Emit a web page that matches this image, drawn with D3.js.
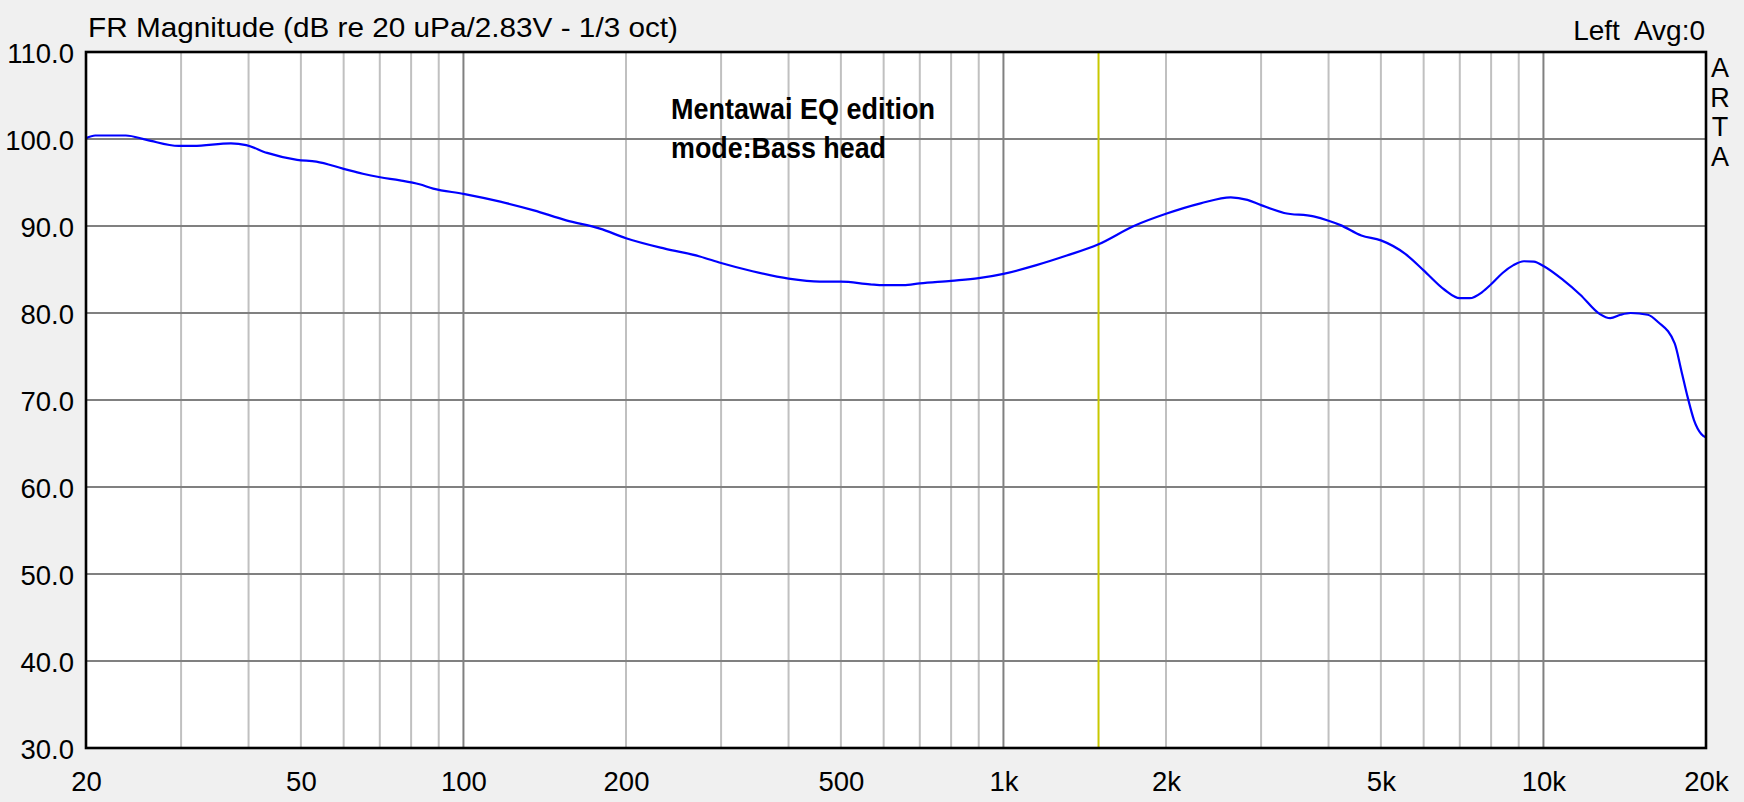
<!DOCTYPE html>
<html>
<head>
<meta charset="utf-8">
<script src="https://cdn.jsdelivr.net/npm/d3@7"></script>
<style>
  html, body { margin: 0; padding: 0; background: #f0f0f0; }
  svg { display: block; font-family: "Liberation Sans", Arial, sans-serif; }
</style>
</head>
<body>
<svg id="chart" width="1744" height="802"></svg>
<script>
// ---------------- data ----------------
const freqs = [20, 20.8, 23.7, 25.9, 29.7, 31.6, 37.1, 39.6, 43.3, 49.2, 53.4, 59.8, 65.1, 70.1, 76.3, 82.9, 87.9,
  100, 117, 135, 155, 179, 200, 236, 274, 300, 343, 400, 457, 500, 566, 600, 653, 700, 800, 900,
  1000, 1151, 1310, 1500, 1744, 2000, 2318, 2636, 2830, 3000, 3309, 3752, 4000, 4209, 4600, 5000, 5548,
  6000, 6550, 7000, 7300, 7700, 8000, 8400, 8800, 9200, 9600, 10000, 10870, 11700, 12700, 13300, 13900, 14500,
  15600, 16300, 17500, 18000, 18500, 19000, 19600, 20000];
const magnitudeDb = [100.1, 100.4, 100.4, 99.9, 99.2, 99.2, 99.5, 99.3, 98.4, 97.6, 97.4, 96.6, 96.0, 95.6, 95.25, 94.8, 94.3,
  93.7, 92.8, 91.8, 90.65, 89.7, 88.6, 87.4, 86.5, 85.75, 84.8, 83.95, 83.6, 83.6, 83.3, 83.2, 83.2, 83.4, 83.7, 84.0,
  84.5, 85.5, 86.6, 87.9, 90.0, 91.4, 92.6, 93.3, 93.0, 92.4, 91.5, 91.1, 90.6, 90.1, 88.9, 88.35, 86.8,
  84.9, 82.7, 81.7, 81.7, 82.4, 83.3, 84.6, 85.5, 85.95, 85.9, 85.4, 83.8, 82.1, 79.9, 79.4, 79.8, 80.0,
  79.8, 78.96, 76.5, 73.4, 70.3, 67.7, 66.1, 65.7];

const xTickValues = [20, 50, 100, 200, 500, 1000, 2000, 5000, 10000, 20000];
const xTickLabels = ["20", "50", "100", "200", "500", "1k", "2k", "5k", "10k", "20k"];
const xMajorGrid = [100, 1000, 10000];
const xMinorGrid = [30, 40, 50, 60, 70, 80, 90, 200, 300, 400, 500, 600, 700, 800, 900,
  2000, 3000, 4000, 5000, 6000, 7000, 8000, 9000];
const yTickValues = [30, 40, 50, 60, 70, 80, 90, 100, 110];
const markerFreq = [1500];

const titleText = "FR Magnitude (dB re 20 uPa/2.83V - 1/3 oct)";
const channelText = "Left  Avg:0";
const brandLetters = ["A", "R", "T", "A"];
const noteLines = ["Mentawai EQ edition", "mode:Bass head"];

// ---------------- layout ----------------
const L = 86, T = 52, R = 1706, B = 748;
const svg = d3.select("#chart");

const x = d3.scaleLog().domain([20, 20000]).range([L, R]);
const y = d3.scaleLinear().domain([30, 110]).range([B, T]);

// plot background
svg.append("rect").attr("x", L).attr("y", T).attr("width", R - L).attr("height", B - T).attr("fill", "#ffffff");

// minor vertical grid
svg.append("g").selectAll("line").data(xMinorGrid).join("line")
  .attr("x1", d => x(d)).attr("x2", d => x(d)).attr("y1", T).attr("y2", B)
  .attr("stroke", "#c0c0c0").attr("stroke-width", 2);

// major vertical grid
svg.append("g").selectAll("line").data(xMajorGrid).join("line")
  .attr("x1", d => x(d)).attr("x2", d => x(d)).attr("y1", T).attr("y2", B)
  .attr("stroke", "#808080").attr("stroke-width", 2);

// horizontal grid
svg.append("g").selectAll("line").data(yTickValues.slice(1, -1)).join("line")
  .attr("x1", L).attr("x2", R).attr("y1", d => y(d)).attr("y2", d => y(d))
  .attr("stroke", "#808080").attr("stroke-width", 2);

// marker (yellow)
svg.append("g").selectAll("line").data(markerFreq).join("line")
  .attr("x1", d => x(d)).attr("x2", d => x(d)).attr("y1", T).attr("y2", B)
  .attr("stroke", "#c8c800").attr("stroke-width", 2);

// annotation
const note = svg.append("g").attr("font-weight", "bold").attr("font-size", 30).attr("fill", "#000");
note.selectAll("text").data(noteLines).join("text")
  .attr("x", 671).attr("y", (d, i) => 119 + i * 39)
  .attr("textLength", (d, i) => [264, 215][i])
  .attr("lengthAdjust", "spacingAndGlyphs")
  .text(d => d);

// curve
const pts = freqs.map((f, i) => [f, magnitudeDb[i]]);
const line = d3.line().x(d => x(d[0])).y(d => y(d[1])).curve(d3.curveMonotoneX);
svg.append("path").datum(pts).attr("d", line)
  .attr("fill", "none").attr("stroke", "#0000ff").attr("stroke-width", 2.2);

// border
svg.append("rect").attr("x", L).attr("y", T).attr("width", R - L).attr("height", B - T)
  .attr("fill", "none").attr("stroke", "#000").attr("stroke-width", 2.6);

// axes (labels only)
const yAxis = d3.axisLeft(y).tickValues(yTickValues).tickFormat(d3.format(".1f")).tickSize(0).tickPadding(12);
const gy = svg.append("g").attr("transform", `translate(${L},0)`).call(yAxis);
gy.select(".domain").remove();
gy.selectAll("text").attr("font-size", 27.5).attr("fill", "#000").attr("dy", "0.37em")
  .attr("font-family", "'Liberation Sans', Arial, sans-serif");

const xAxis = d3.axisBottom(x).tickValues(xTickValues).tickFormat((d, i) => xTickLabels[i]).tickSize(0).tickPadding(23);
const gx = svg.append("g").attr("transform", `translate(0,${B})`).call(xAxis);
gx.select(".domain").remove();
gx.selectAll("text").attr("font-size", 27.5).attr("fill", "#000")
  .attr("font-family", "'Liberation Sans', Arial, sans-serif");

// title
svg.append("text").attr("x", 88).attr("y", 37).attr("font-size", 28).attr("fill", "#000")
  .attr("textLength", 590).attr("lengthAdjust", "spacingAndGlyphs").text(titleText);
svg.append("text").attr("x", 1705).attr("y", 40).attr("font-size", 28).attr("fill", "#000")
  .attr("text-anchor", "end").style("white-space", "pre").text(channelText);

// ARTA
svg.append("g").selectAll("text").data(brandLetters).join("text")
  .attr("x", 1720).attr("y", (d, i) => 77 + i * 29.7)
  .attr("text-anchor", "middle").attr("font-size", 27).attr("fill", "#000")
  .text(d => d);
</script>
</body>
</html>
